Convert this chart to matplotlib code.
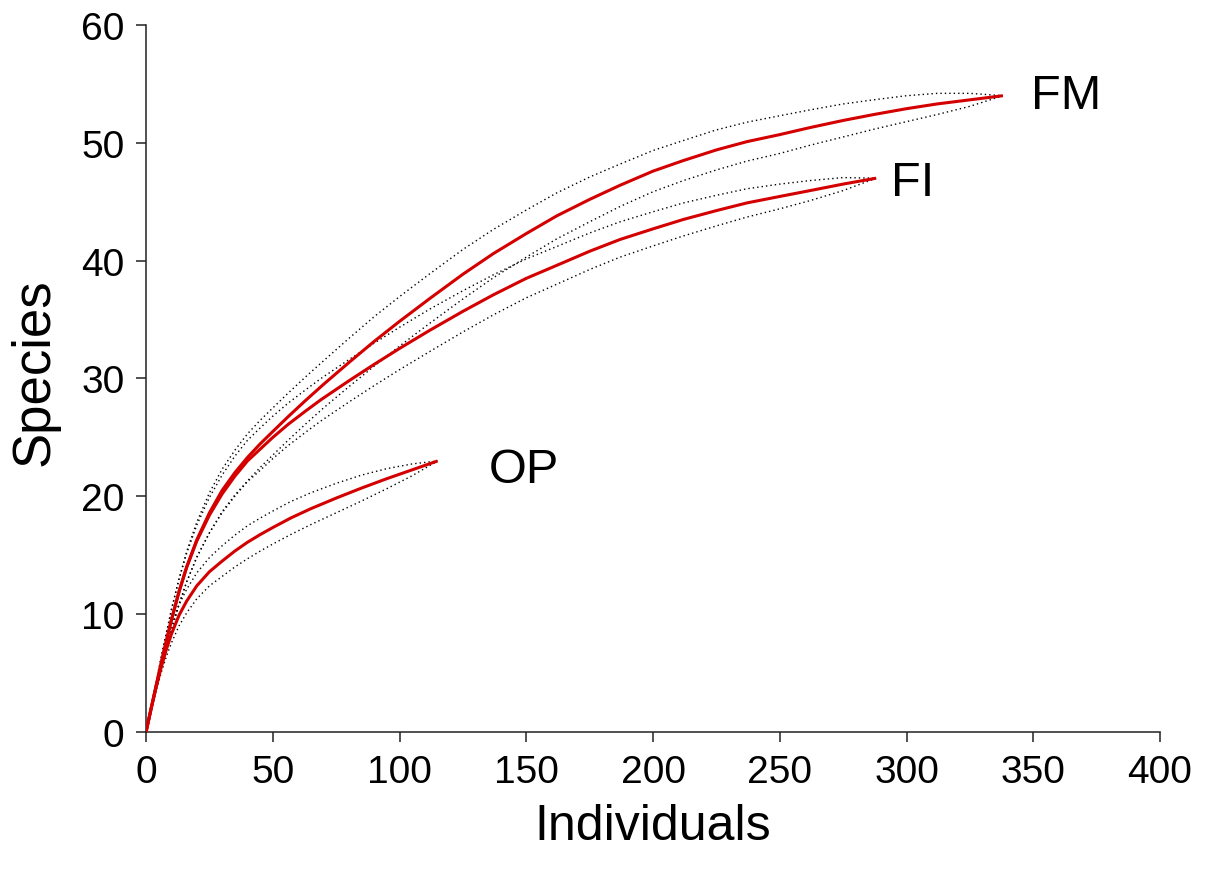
import matplotlib
matplotlib.use("Agg")
import matplotlib.pyplot as plt

plt.rcParams['font.family'] = ['Liberation Sans', 'DejaVu Sans']

# ---- data ----
fm_x = [0, 2, 4, 7, 10, 13, 16, 20, 25, 30, 35, 40, 45, 50, 56, 63, 70, 80, 90, 100,
        112, 125, 137, 150, 162, 175, 187, 200, 212, 225, 237, 250, 262, 275, 287, 300,
        312, 325, 338]
fm_mean = [0, 2.0, 3.95, 6.8, 9.5, 11.9, 14.0, 16.3, 18.6, 20.5, 22.0, 23.3, 24.45, 25.5,
           26.75, 28.15, 29.5, 31.35, 33.15, 34.85, 36.8, 38.85, 40.6, 42.3, 43.8, 45.2, 46.4,
           47.6, 48.5, 49.4, 50.1, 50.7, 51.3, 51.9, 52.4, 52.9, 53.3, 53.65, 54.0]
fm_upper = [0, 2.1, 4.25, 7.4, 10.4, 13.0, 15.3, 17.8, 20.3, 22.3, 23.9, 25.3, 26.45, 27.5,
            28.75, 30.15, 31.5, 33.4, 35.25, 36.95, 38.9, 40.95, 42.65, 44.3, 45.75, 47.1, 48.2,
            49.35, 50.2, 51.1, 51.75, 52.3, 52.8, 53.3, 53.65, 54.0, 54.2, 54.2, 54.0]
fm_lower = [0, 1.9, 3.65, 6.2, 8.6, 10.8, 12.7, 14.8, 16.9, 18.7, 20.1, 21.3, 22.45, 23.5,
            24.75, 26.15, 27.5, 29.3, 31.05, 32.75, 34.7, 36.75, 38.55, 40.3, 41.85, 43.3, 44.6,
            45.85, 46.8, 47.7, 48.45, 49.1, 49.8, 50.5, 51.15, 51.8, 52.4, 53.1, 54.0]

fi_x = [0, 2, 4, 7, 10, 13, 16, 20, 25, 30, 35, 40, 45, 50, 56, 63, 69, 80, 90, 100,
        112, 125, 137, 150, 162, 175, 187, 200, 212, 225, 237, 250, 262, 275, 288]
fi_mean = [0, 2.0, 3.95, 6.8, 9.5, 11.9, 13.95, 16.2, 18.4, 20.2, 21.7, 23.0, 24.0, 25.0,
           26.1, 27.25, 28.2, 29.8, 31.2, 32.55, 34.1, 35.7, 37.1, 38.5, 39.6, 40.8, 41.8,
           42.7, 43.5, 44.25, 44.9, 45.45, 45.95, 46.5, 47.0]
fi_upper = [0, 2.1, 4.25, 7.4, 10.35, 12.95, 15.15, 17.55, 19.9, 21.8, 23.4, 24.75, 25.8,
            26.8, 27.9, 29.05, 30.0, 31.6, 33.0, 34.35, 35.9, 37.45, 38.8, 40.15, 41.2, 42.35,
            43.3, 44.15, 44.9, 45.55, 46.1, 46.5, 46.8, 47.05, 47.0]
fi_lower = [0, 1.9, 3.65, 6.2, 8.65, 10.85, 12.75, 14.85, 16.9, 18.6, 20.0, 21.25, 22.2,
            23.2, 24.3, 25.45, 26.4, 28.0, 29.4, 30.75, 32.3, 33.95, 35.4, 36.85, 38.0, 39.25,
            40.3, 41.25, 42.1, 42.95, 43.7, 44.4, 45.1, 45.95, 47.0]

op_x = [0, 2, 4, 6, 8, 10, 13, 16, 20, 25, 30, 35, 40, 45, 50, 57, 65, 75, 85, 95, 105, 115]
op_mean = [0, 1.95, 3.8, 5.5, 7.0, 8.3, 9.9, 11.1, 12.4, 13.6, 14.5, 15.35, 16.1, 16.75,
           17.35, 18.15, 18.95, 19.85, 20.7, 21.5, 22.25, 23.0]
op_upper = [0, 2.05, 4.05, 5.95, 7.6, 9.05, 10.8, 12.1, 13.5, 14.8, 15.8, 16.7, 17.5, 18.15,
            18.75, 19.55, 20.3, 21.1, 21.8, 22.35, 22.75, 23.0]
op_lower = [0, 1.85, 3.55, 5.05, 6.4, 7.55, 9.0, 10.1, 11.3, 12.4, 13.2, 14.0, 14.7, 15.35,
            15.95, 16.75, 17.6, 18.6, 19.6, 20.65, 21.75, 23.0]

labels = ["FM", "FI", "OP"]
label_pos = [(349, 54.0), (294, 46.6), (135, 22.3)]

x_ticks = [0, 50, 100, 150, 200, 250, 300, 350, 400]
y_ticks = [0, 10, 20, 30, 40, 50, 60]

# ---- figure ----
fig = plt.figure(figsize=(12.05, 8.70), dpi=100)
ax = fig.add_axes([0.1212, 0.1575, 0.8415, 0.8126])

series = [(fm_x, fm_mean, fm_upper, fm_lower),
          (fi_x, fi_mean, fi_upper, fi_lower),
          (op_x, op_mean, op_upper, op_lower)]

for xs, m, up, lo in series:
    ax.plot(xs, up, color='black', lw=1.0, ls=(0, (1, 2.2)), zorder=2)
    ax.plot(xs, lo, color='black', lw=1.0, ls=(0, (1, 2.2)), zorder=2)
    ax.plot(xs, m, color='#d40000', lw=2.2, zorder=3, solid_capstyle='butt',
            solid_joinstyle='round')

for lab, (lx, ly) in zip(labels, label_pos):
    ax.text(lx, ly, lab, fontsize=35, ha='left', va='center', color='black')

ax.set_xlim(0, 400)
ax.set_ylim(0, 60)
ax.set_xticks(x_ticks)
ax.set_yticks(y_ticks)
ax.tick_params(direction='out', length=7.5, width=1.1, labelsize=28, pad=8, color='#222222')
for s in ['top', 'right']:
    ax.spines[s].set_visible(False)
for s in ['left', 'bottom']:
    ax.spines[s].set_linewidth(1.1)
    ax.spines[s].set_color('#222222')

ax.set_xlabel('Individuals', fontsize=36, labelpad=10)
ax.set_ylabel('Species', fontsize=38, labelpad=12)
ax.yaxis.set_label_coords(-0.085, 0.51)

fig.savefig('out.png', dpi=100, facecolor='white')
